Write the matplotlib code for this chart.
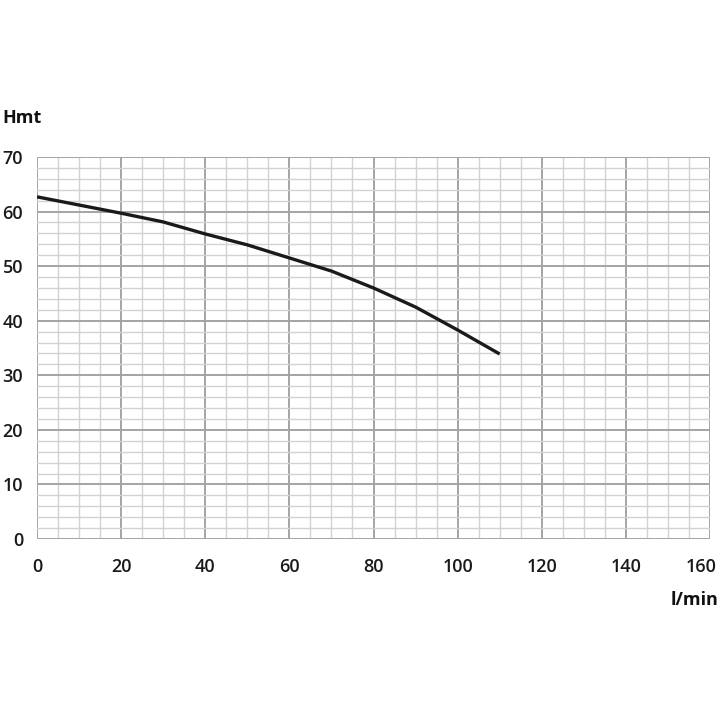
import matplotlib
matplotlib.use("Agg")
import matplotlib.pyplot as plt
import matplotlib.transforms as mtransforms
from matplotlib.ticker import MultipleLocator

flow = [0, 10, 20, 30, 40, 50, 60, 70, 80, 90, 100, 110]
head = [62.7, 61.2, 59.7, 58.1, 55.9, 53.9, 51.5, 49.1, 46.0, 42.5, 38.3, 33.9]
xticks = [0, 20, 40, 60, 80, 100, 120, 140, 160]
yticks = [0, 10, 20, 30, 40, 50, 60, 70]

plt.rcParams['font.family'] = ['Open Sans', 'DejaVu Sans']
fig = plt.figure(figsize=(7.2, 7.2), dpi=100)
ax = fig.add_axes([37/720, 1-539/720, 673/720, 382/720])
ax.set_xlim(0, 160)
ax.set_ylim(0, 70)
ax.xaxis.set_minor_locator(MultipleLocator(5))
ax.yaxis.set_minor_locator(MultipleLocator(2))
ax.set_xticks(xticks)
ax.set_yticks(yticks)
ax.grid(which='minor', color='#d2d2d2', lw=1.0)
ax.grid(which='major', color='#a4a4a4', lw=1.4)
ax.set_axisbelow(True)
for s in ax.spines.values():
    s.set_visible(False)
ax.tick_params(which='both', length=0)
ax.tick_params(axis='x', pad=14, labelsize=13, colors='#1a1a1a')
ax.tick_params(axis='y', pad=10, labelsize=13, colors='#1a1a1a')
for lab in ax.get_xticklabels() + ax.get_yticklabels():
    lab.set_fontweight('semibold')
last = ax.get_xticklabels()[-1]
last.set_transform(last.get_transform() + mtransforms.ScaledTranslation(-9/100, 0, fig.dpi_scale_trans))
ax.plot(flow, head, color='#1a1a1a', lw=2.4, solid_capstyle='butt')
fig.text(2/720, 1-118/720, 'Hmt', fontsize=13, fontweight='bold', va='center', ha='left', color='#111111')
fig.text(718/720, 1-600/720, 'l/min', fontsize=13, fontweight='bold', va='center', ha='right', color='#111111')
fig.savefig('out.png', dpi=100, facecolor='white')
